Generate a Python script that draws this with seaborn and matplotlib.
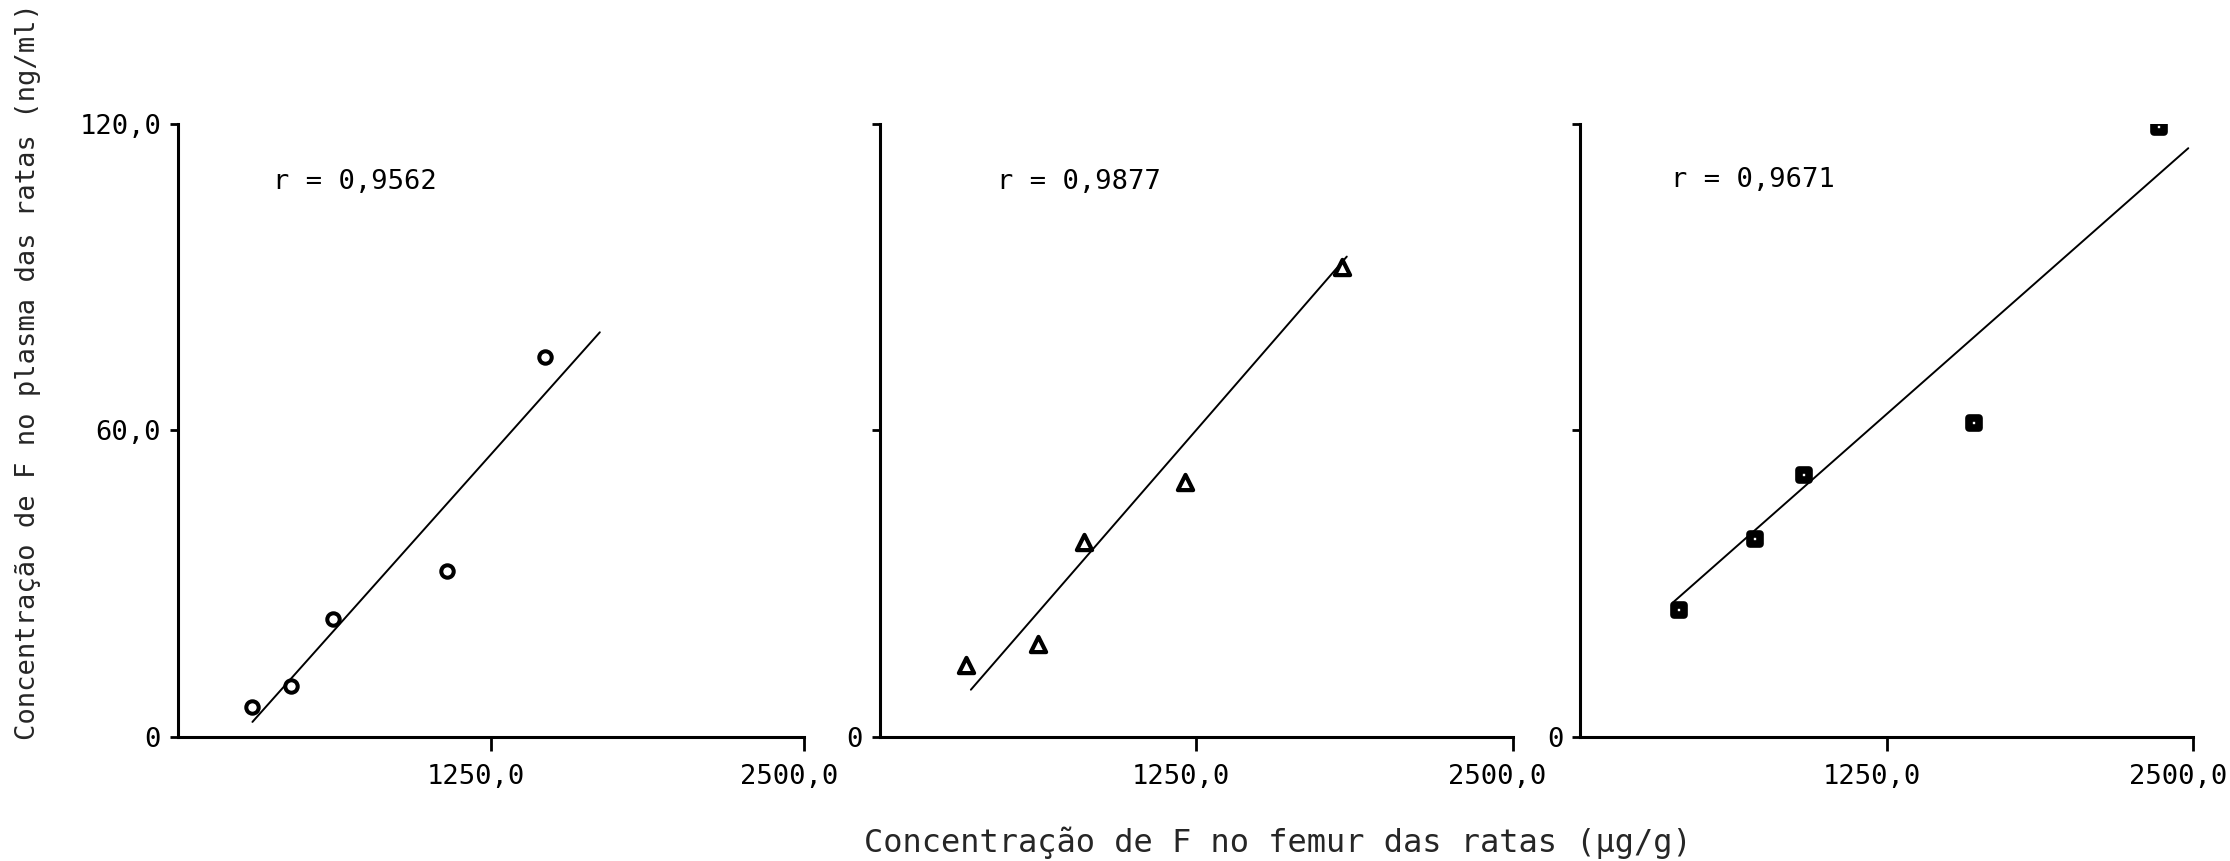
import matplotlib
matplotlib.use("Agg")
import matplotlib.pyplot as plt
import matplotlib.transforms as mtransforms
import pandas as pd
import seaborn as sns

# pontos: femur (ug/g) x plasma (ng/ml)
femur_a = [295, 452, 620, 1075, 1465]
plasma_a = [6.0, 10.1, 23.2, 32.6, 74.3]
femur_b = [340, 625, 805, 1205, 1825]
plasma_b = [14.1, 18.3, 38.2, 49.9, 92.0]
femur_c = [405, 715, 915, 1605, 2360]
plasma_c = [24.8, 38.7, 51.2, 61.5, 119.3]

# extremos das retas de regressao
reta_x_a = [298, 1684]
reta_y_a = [3.0, 79.2]
reta_x_b = [360, 1845]
reta_y_b = [9.3, 94.0]
reta_x_c = [380, 2480]
reta_y_c = [26.4, 115.2]

r_labels = ["r = 0,9562", "r = 0,9877", "r = 0,9671"]
r_pos = [(380, 108.6), (464, 108.6), (371, 108.9)]
xticks = [1250, 2500]
xtick_labels = ["1250,0", "2500,0"]
yticks = [0, 60, 120]
ytick_labels = ["0", "60,0", "120,0"]

sns.set_style("white")
plt.rcParams["font.family"] = ["DejaVu Sans Mono", "DejaVu Sans"]

fig = plt.figure(figsize=(22.3, 8.61), dpi=100)
bottom, height = 0.1437, 0.7127
ax1 = fig.add_axes([0.0797, bottom, 0.2810, height])
ax2 = fig.add_axes([0.3945, bottom, 0.2838, height])
ax3 = fig.add_axes([0.7085, bottom, 0.2750, height])

panels = [
    (ax1, femur_a, plasma_a, reta_x_a, reta_y_a, "o", dict(s=80, facecolor="white", edgecolor="black", linewidth=2.9)),
    (ax2, femur_b, plasma_b, reta_x_b, reta_y_b, "^", dict(s=120, facecolor="white", edgecolor="black", linewidth=3.0)),
    (ax3, femur_c, plasma_c, reta_x_c, reta_y_c, "s", dict(s=60, facecolor="white", edgecolor="black", linewidth=5.5)),
]

# os rotulos do eixo x ficam um pouco a esquerda do tick
shift = mtransforms.ScaledTranslation(-0.15, 0, fig.dpi_scale_trans)

for i, (ax, fx, py, lx, ly, mk, kw) in enumerate(panels):
    pts = pd.DataFrame({"femur": fx, "plasma": py})
    reta = pd.DataFrame({"femur": lx, "plasma": ly})
    sns.lineplot(data=reta, x="femur", y="plasma", ax=ax, color="black", linewidth=1.4)
    sns.scatterplot(data=pts, x="femur", y="plasma", ax=ax, marker=mk, zorder=3, **kw)

    ax.set_xlim(0, 2500)
    ax.set_ylim(0, 120)
    ax.set_xlabel("")
    ax.set_ylabel("")
    ax.spines["top"].set_visible(False)
    ax.spines["right"].set_visible(False)
    for side in ["left", "bottom"]:
        ax.spines[side].set_linewidth(2.2)
        ax.spines[side].set_color("black")

    ax.set_xticks(xticks)
    ax.set_xticklabels(xtick_labels)
    ax.set_yticks(yticks)
    if i == 0:
        ax.set_yticklabels(ytick_labels)
    else:
        ax.set_yticklabels(["0", "", ""])
    ax.tick_params(axis="x", direction="out", length=10, width=2, pad=9,
                   labelsize=19.5, bottom=True, colors="black")
    ax.tick_params(axis="y", direction="out", length=6, width=2, pad=6,
                   labelsize=19.5, left=True, colors="black")
    for lab in ax.get_xticklabels():
        lab.set_transform(lab.get_transform() + shift)

    ax.text(r_pos[i][0], r_pos[i][1], r_labels[i], fontsize=19.5,
            ha="left", va="center", color="black")

fig.text(0.0126, 0.568, "Concentração de F no plasma das ratas (ng/ml)",
         rotation=90, ha="center", va="center", fontsize=19.5)
fig.text(0.573, 0.021, "Concentração de F no femur das ratas (µg/g)",
         ha="center", va="center", fontsize=23)

fig.savefig("out.png", dpi=100, facecolor="white")
